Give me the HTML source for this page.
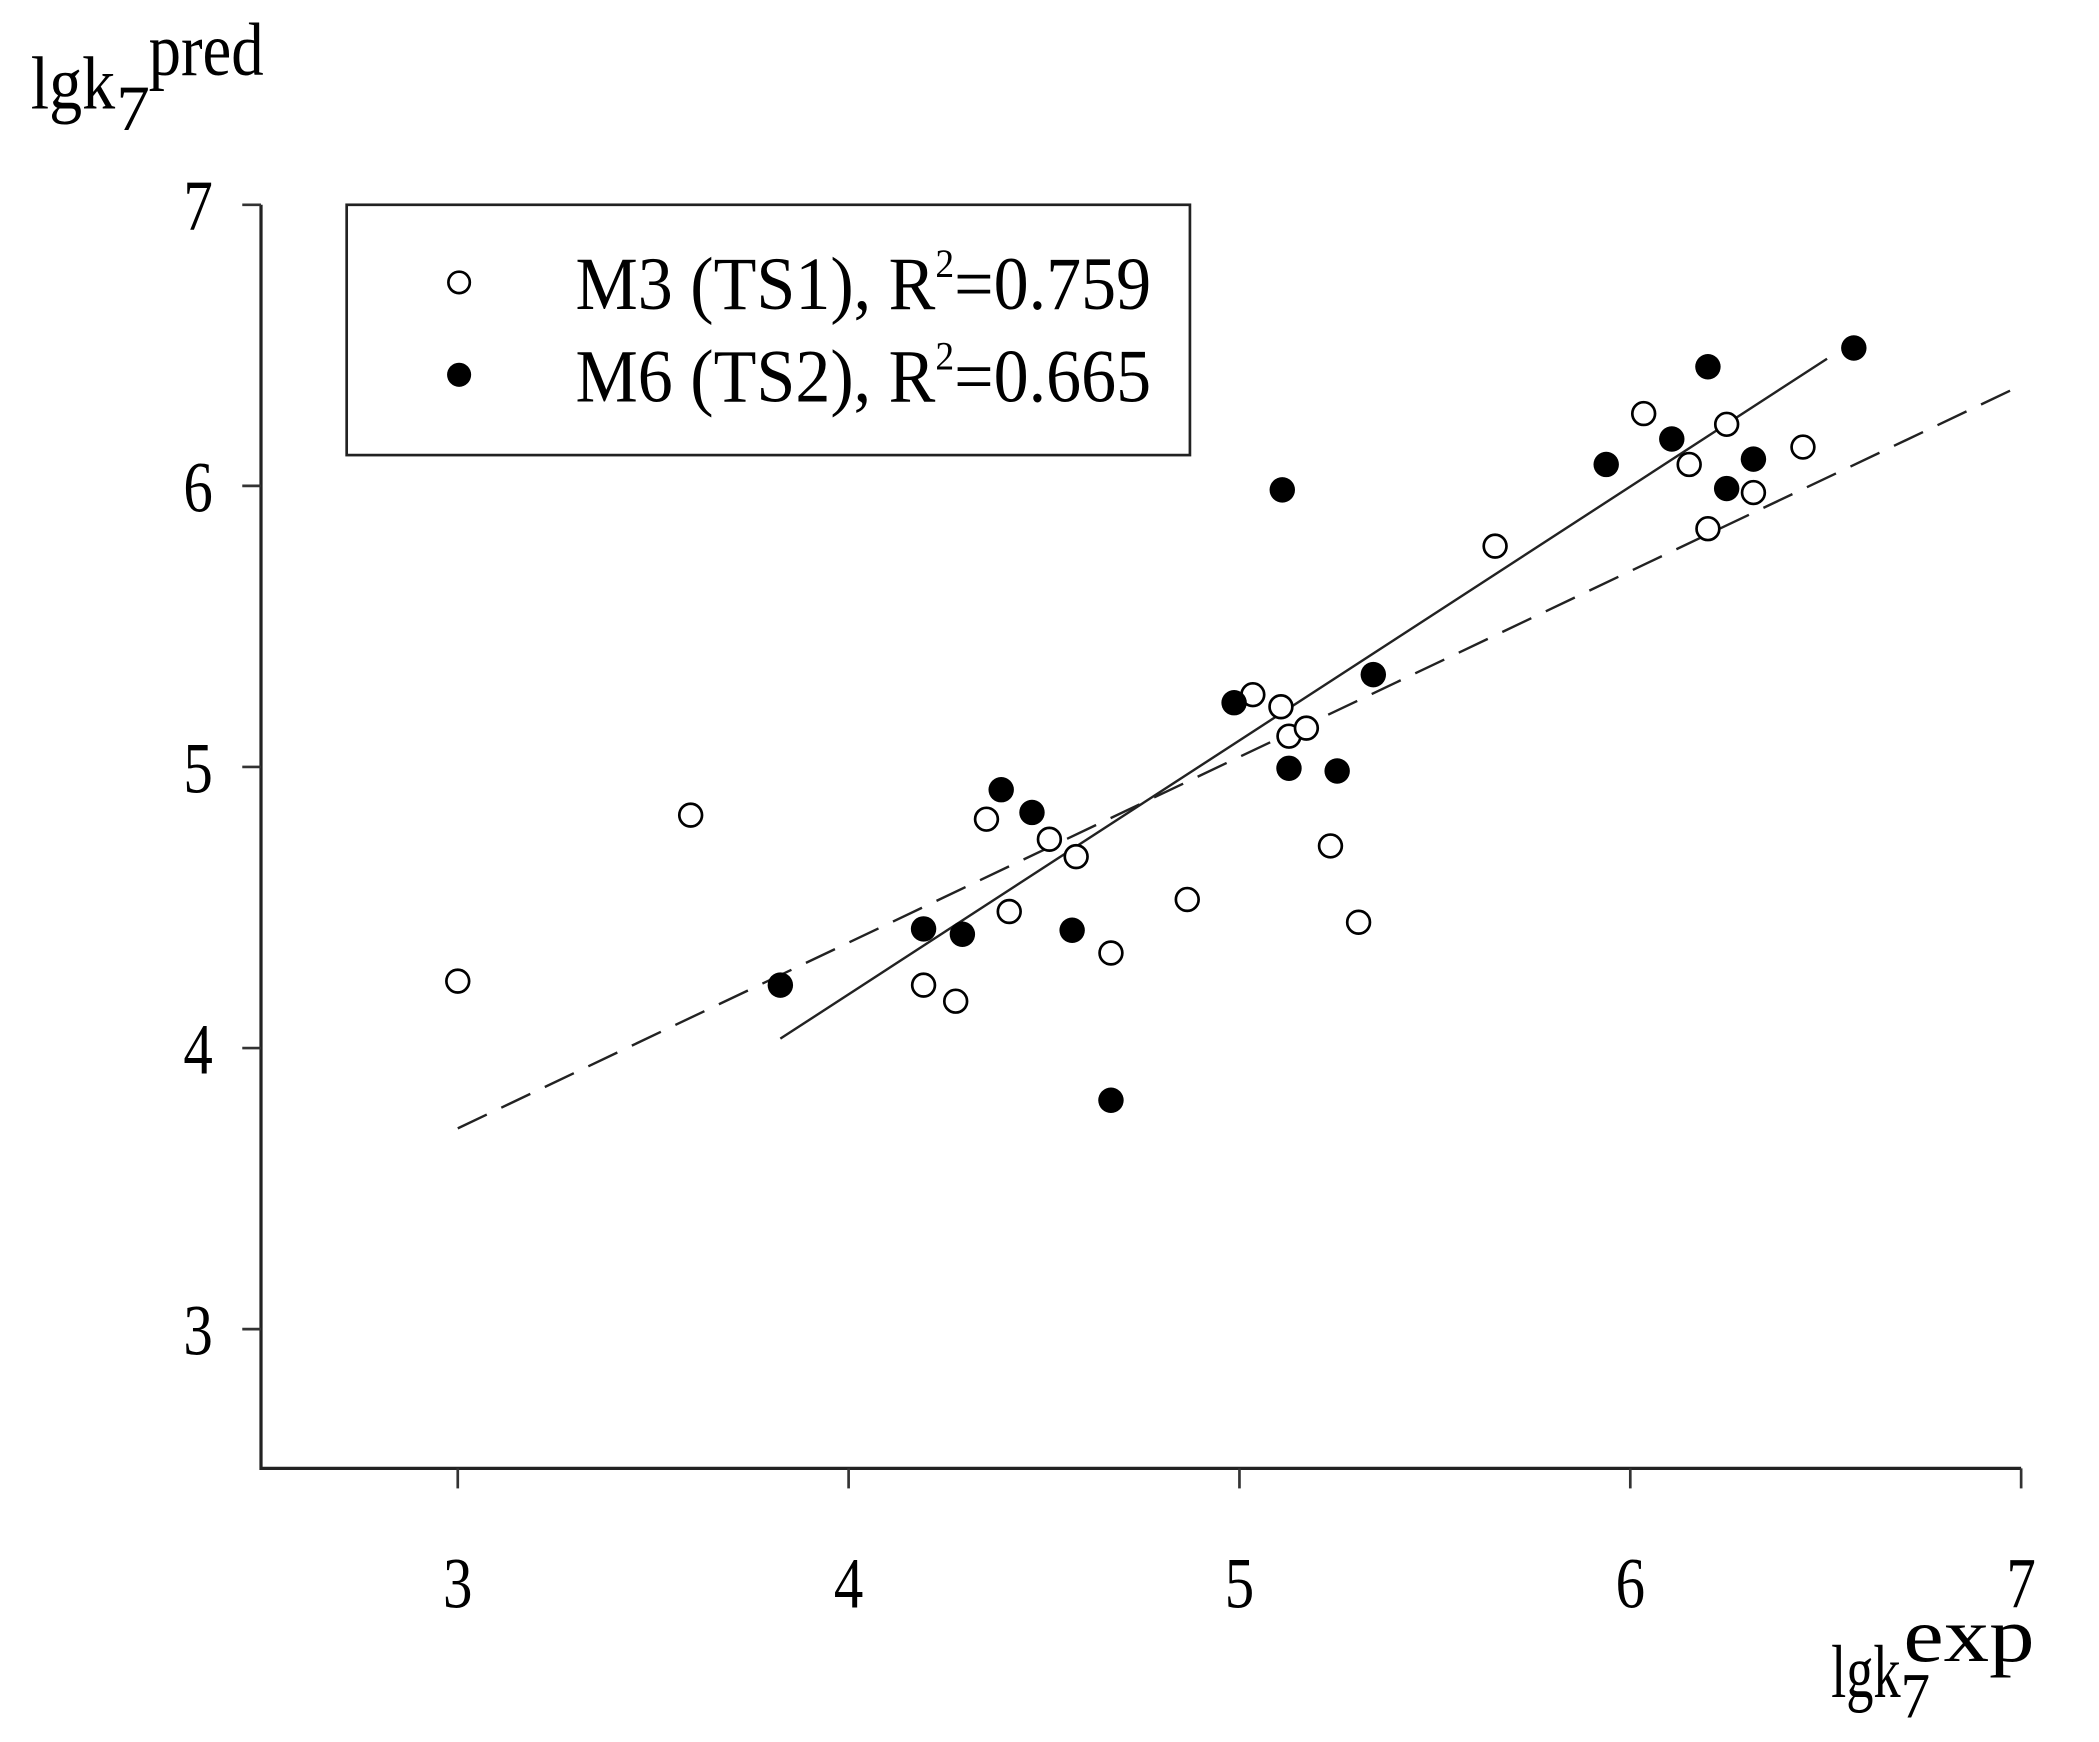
<!DOCTYPE html>
<html><head><meta charset="utf-8"><style>html,body{margin:0;padding:0;background:#fff}svg{display:block}</style></head>
<body>
<svg width="2099" height="1742" viewBox="0 0 2099 1742" xmlns="http://www.w3.org/2000/svg">
<rect width="2099" height="1742" fill="#fff"/>
<g transform="scale(1.3385)" font-family="Liberation Serif, serif" fill="#000">
<path d="M195,153 V1097 H1510" fill="none" stroke="#222" stroke-width="2.4"/>
<g stroke="#333" stroke-width="2">
<line x1="181" y1="153" x2="195" y2="153"/><line x1="181" y1="363" x2="195" y2="363"/>
<line x1="181" y1="573" x2="195" y2="573"/><line x1="181" y1="783" x2="195" y2="783"/>
<line x1="181" y1="993" x2="195" y2="993"/>
<line x1="342" y1="1097" x2="342" y2="1112"/><line x1="634" y1="1097" x2="634" y2="1112"/>
<line x1="926" y1="1097" x2="926" y2="1112"/><line x1="1218" y1="1097" x2="1218" y2="1112"/>
<line x1="1510" y1="1097" x2="1510" y2="1112"/>
</g>
<g font-size="54" text-anchor="middle">
<text x="148" y="172" textLength="22" lengthAdjust="spacingAndGlyphs">7</text>
<text x="148" y="382" textLength="22" lengthAdjust="spacingAndGlyphs">6</text>
<text x="148" y="592" textLength="22" lengthAdjust="spacingAndGlyphs">5</text>
<text x="148" y="802" textLength="22" lengthAdjust="spacingAndGlyphs">4</text>
<text x="148" y="1012" textLength="22" lengthAdjust="spacingAndGlyphs">3</text>
<text x="342" y="1201" textLength="22" lengthAdjust="spacingAndGlyphs">3</text>
<text x="634" y="1201" textLength="22" lengthAdjust="spacingAndGlyphs">4</text>
<text x="926" y="1201" textLength="22" lengthAdjust="spacingAndGlyphs">5</text>
<text x="1218" y="1201" textLength="22" lengthAdjust="spacingAndGlyphs">6</text>
<text x="1510" y="1201" textLength="22" lengthAdjust="spacingAndGlyphs">7</text>
</g>
<text x="23" y="81" font-size="56" textLength="63" lengthAdjust="spacingAndGlyphs">lgk</text>
<text x="87" y="97" font-size="48" textLength="25" lengthAdjust="spacingAndGlyphs">7</text>
<text x="111" y="56" font-size="56" textLength="86" lengthAdjust="spacingAndGlyphs">pred</text>
<text x="1368" y="1268" font-size="56" textLength="52" lengthAdjust="spacingAndGlyphs">lgk</text>
<text x="1420" y="1283" font-size="48" textLength="22" lengthAdjust="spacingAndGlyphs">7</text>
<text x="1422" y="1241" font-size="58" textLength="98" lengthAdjust="spacingAndGlyphs">exp</text>
<rect x="259" y="153" width="630" height="187" fill="none" stroke="#222" stroke-width="2"/>
<circle cx="343" cy="211" r="8" fill="#fff" stroke="#000" stroke-width="2"/>
<circle cx="343" cy="280" r="9" fill="#000"/>
<text x="430" y="231" font-size="56" textLength="430" lengthAdjust="spacingAndGlyphs">M3 (TS1), R<tspan font-size="30" dy="-24">2</tspan><tspan dy="24">=0.759</tspan></text>
<text x="430" y="300" font-size="56" textLength="430" lengthAdjust="spacingAndGlyphs">M6 (TS2), R<tspan font-size="30" dy="-24">2</tspan><tspan dy="24">=0.665</tspan></text>
<line x1="342" y1="843" x2="1512" y2="287" stroke="#222" stroke-width="1.8" stroke-dasharray="24,12"/>
<line x1="583" y1="776" x2="1365" y2="268" stroke="#222" stroke-width="1.8"/>
<g fill="#fff" stroke="#000" stroke-width="2">
<circle cx="342" cy="733" r="8.5"/><circle cx="516" cy="609" r="8.5"/><circle cx="690" cy="736" r="8.5"/>
<circle cx="714" cy="748" r="8.5"/><circle cx="737" cy="612" r="8.5"/><circle cx="754" cy="681" r="8.5"/>
<circle cx="784" cy="627" r="8.5"/><circle cx="804" cy="640" r="8.5"/><circle cx="830" cy="712" r="8.5"/>
<circle cx="887" cy="672" r="8.5"/><circle cx="936" cy="519" r="8.5"/><circle cx="957" cy="528" r="8.5"/>
<circle cx="963" cy="550" r="8.5"/><circle cx="976" cy="544" r="8.5"/><circle cx="994" cy="632" r="8.5"/>
<circle cx="1015" cy="689" r="8.5"/><circle cx="1117" cy="408" r="8.5"/><circle cx="1228" cy="309" r="8.5"/>
<circle cx="1262" cy="347" r="8.5"/><circle cx="1276" cy="395" r="8.5"/><circle cx="1290" cy="317" r="8.5"/>
<circle cx="1310" cy="368" r="8.5"/><circle cx="1347" cy="334" r="8.5"/>
</g>
<g fill="#000">
<circle cx="583" cy="736" r="9.5"/><circle cx="690" cy="694" r="9.5"/><circle cx="719" cy="698" r="9.5"/>
<circle cx="748" cy="590" r="9.5"/><circle cx="771" cy="607" r="9.5"/><circle cx="801" cy="695" r="9.5"/>
<circle cx="830" cy="822" r="9.5"/><circle cx="922" cy="525" r="9.5"/><circle cx="958" cy="366" r="9.5"/>
<circle cx="963" cy="574" r="9.5"/><circle cx="999" cy="576" r="9.5"/><circle cx="1026" cy="504" r="9.5"/>
<circle cx="1200" cy="347" r="9.5"/><circle cx="1249" cy="328" r="9.5"/><circle cx="1276" cy="274" r="9.5"/>
<circle cx="1290" cy="365" r="9.5"/><circle cx="1310" cy="343" r="9.5"/><circle cx="1385" cy="260" r="9.5"/>
</g>
</g>
</svg>
</body></html>
